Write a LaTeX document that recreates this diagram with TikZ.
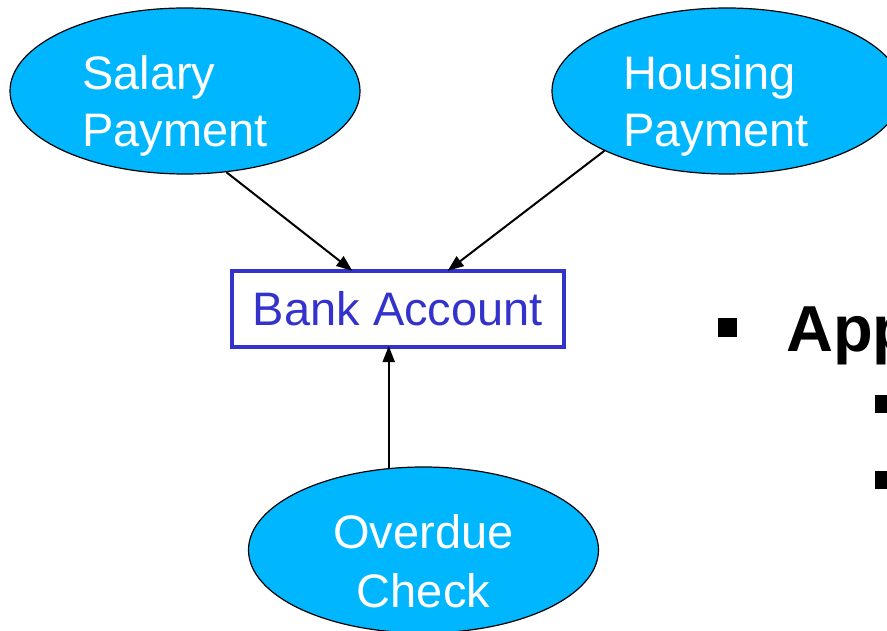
\documentclass[tikz,border=0pt]{standalone}
\usepackage{fontspec}
\setmainfont{Liberation Sans}
\usetikzlibrary{shapes.geometric,arrows.meta}
\definecolor{bubblefill}{RGB}{0,183,255}
\definecolor{acct}{RGB}{51,51,204}

\begin{document}
\begin{tikzpicture}[x=1pt,y=-1pt,
  bubble/.style={ellipse,draw=black,line width=1.2pt,fill=bubblefill,
    minimum width=350pt,minimum height=166pt,inner sep=0pt},
  lbl/.style={text=white,font=\fontsize{47}{54}\selectfont,inner sep=0pt},
  acctbox/.style={draw=acct,line width=4pt,minimum width=332pt,minimum height=76pt,
    inner sep=0pt,text=acct,font=\fontsize{47}{54}\selectfont},
  flow/.style={line width=2pt,shorten >=-3pt,-{Triangle[length=16pt,width=12pt]}},
  bullet/.style={fill=black,inner sep=0pt}]
\useasboundingbox (0,0) rectangle (887,631);
\clip (0,0) rectangle (887,631);

% event sources
\node[bubble] (sal) at (185,91) {};
\node[lbl,anchor=base west] (sal1) at (82,90) {Salary};
\node[lbl,anchor=base west] (sal2) at (82,147) {Payment};

\node[bubble] (hou) at (727,91) {};
\node[lbl,anchor=base west] (hou1) at (623,90) {Housing};
\node[lbl,anchor=base west] (hou2) at (623,147) {Payment};

\node[bubble] (ovd) at (423.5,550) {};
\node[lbl,anchor=base] (ovd1) at (423.5,548) {Overdue};
\node[lbl,anchor=base] (ovd2) at (423.5,607) {Check};

% the account they feed into
\node[acctbox] (bank) at (398,309) {Bank Account};

\draw[flow] (sal.-63) -- ([xshift=-48pt]bank.north);
\draw[flow] (hou.-154) -- ([xshift=52pt]bank.north);
\draw[flow] (ovd.113.6) -- (ovd.113.6 |- bank.south);

% bullet list
\node[bullet,minimum size=19pt] (b0) at (727.5,327.5) {};
\node[font=\bfseries\fontsize{65}{78}\selectfont,anchor=base west,inner sep=0pt] (app) at (786,352) {App};
\node[bullet,minimum size=18pt] (b1) at (884,404) {};
\node[bullet,minimum size=18pt] (b2) at (884,480) {};
\end{tikzpicture}
\end{document}
